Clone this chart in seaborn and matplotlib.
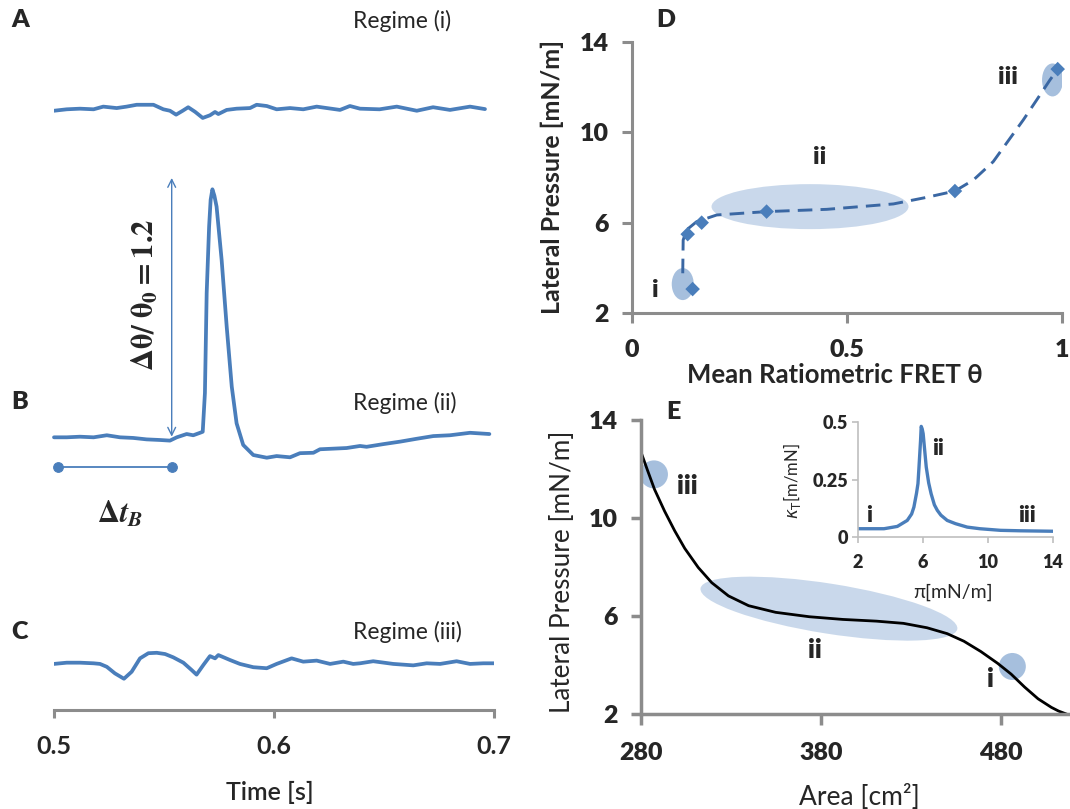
import matplotlib
matplotlib.use("Agg")
import matplotlib.pyplot as plt
import seaborn as sns
from matplotlib.patches import Ellipse
from matplotlib.transforms import ScaledTranslation

# ---------------- data ----------------
# Panels A-C : FRET traces (delta theta / theta0) vs time [s]
tA = [0.5, 0.5058, 0.5118, 0.518, 0.5224, 0.5285, 0.533, 0.5376, 0.5421, 0.5452,
      0.5497, 0.5527, 0.5555, 0.5585, 0.561, 0.5641, 0.5676, 0.5709, 0.5732, 0.5747,
      0.5785, 0.583, 0.5891, 0.5921, 0.5967, 0.6012, 0.6073, 0.6133, 0.6194, 0.624,
      0.63, 0.6345, 0.6391, 0.648, 0.6558, 0.6649, 0.6723, 0.68, 0.6891, 0.6959]
vA = [-0.007, 0.0, 0.003, 0.0, 0.013, 0.006, 0.013, 0.022, 0.022, 0.022,
      0.0, -0.007, -0.026, -0.007, 0.010, -0.012, -0.042, -0.029, -0.013, -0.023,
      -0.003, 0.003, 0.006, 0.022, 0.016, 0.0, 0.006, 0.0, 0.013, 0.006,
      -0.003, 0.016, 0.003, 0.0, 0.013, -0.007, 0.010, -0.003, 0.013, 0.001]

tB = [0.5, 0.5058, 0.5118, 0.518, 0.524, 0.53, 0.536, 0.5421, 0.5482, 0.5527,
      0.5558, 0.5603, 0.5633, 0.5664, 0.5676, 0.5686, 0.5694, 0.5705, 0.5712, 0.572,
      0.5729, 0.5739, 0.5762, 0.5785, 0.5808, 0.583, 0.586, 0.5906, 0.5967, 0.6012,
      0.6073, 0.6118, 0.6179, 0.6209, 0.627, 0.633, 0.6391, 0.6421, 0.6497, 0.6573,
      0.6649, 0.6724, 0.68, 0.6891, 0.6979]
vB = [-0.003, -0.003, 0.0, -0.003, 0.007, -0.003, -0.006, -0.013, -0.016, -0.019,
      -0.003, 0.013, 0.007, 0.019, 0.024, 0.212, 0.698, 1.019, 1.15, 1.201,
      1.17, 1.117, 0.858, 0.534, 0.243, 0.065, -0.040, -0.089, -0.102, -0.094,
      -0.100, -0.080, -0.078, -0.061, -0.058, -0.055, -0.045, -0.049, -0.036, -0.024,
      -0.010, 0.003, 0.007, 0.019, 0.013]

tC = [0.5, 0.5058, 0.5118, 0.518, 0.5209, 0.524, 0.5277, 0.5318, 0.5353, 0.5391,
      0.5429, 0.5467, 0.5505, 0.5542, 0.5588, 0.5626, 0.5648, 0.5679, 0.5709, 0.5732,
      0.5747, 0.58, 0.5845, 0.5906, 0.5967, 0.6012, 0.608, 0.6133, 0.6194, 0.6255,
      0.6315, 0.636, 0.6391, 0.6451, 0.6542, 0.6633, 0.6694, 0.6755, 0.683, 0.6891,
      0.6951, 0.7]
vC = [-0.003, 0.003, 0.003, 0.0, -0.003, -0.017, -0.049, -0.075, -0.041, 0.024,
      0.049, 0.051, 0.045, 0.029, 0.003, -0.033, -0.055, -0.008, 0.035, 0.024,
      0.040, 0.016, -0.003, -0.019, -0.024, -0.003, 0.024, 0.008, 0.013, -0.003,
      0.008, -0.003, 0.0, 0.010, -0.003, -0.010, 0.0, -0.003, 0.010, -0.003,
      0.0, 0.0]
time_ticks = [0.5, 0.6, 0.7]
time_ticklabels = ["0.5", "0.6", "0.7"]
regime_labels = ["Regime (i)", "Regime (ii)", "Regime (iii)"]
amp_value = 1.2          # delta theta / theta0 arrow
dt_window = [0.502, 0.5535]  # delta t_B marker

# Panel D : lateral pressure vs mean ratiometric FRET
thetaD = [0.141, 0.1295, 0.162, 0.313, 0.751, 0.990]
presD = [3.06, 5.49, 6.00, 6.49, 7.40, 12.80]
fitD_theta = [0.118, 0.118, 0.119, 0.127, 0.150, 0.197, 0.313, 0.453, 0.608, 0.685,
              0.751, 0.794, 0.840, 0.871, 0.910, 0.941, 0.972, 0.990]
fitD_pres = [3.17, 4.35, 5.23, 5.68, 6.04, 6.34, 6.49, 6.59, 6.83, 7.12,
             7.40, 7.89, 8.70, 9.52, 10.55, 11.43, 12.32, 12.80]
regD_x = [0.118, 0.414, 0.978]
regD_y = [3.28, 6.71, 12.32]
regD_lbl_x = [0.055, 0.436, 0.874]
regD_lbl_y = [3.02, 8.92, 12.47]

# Panel E : isotherm, lateral pressure vs area
areaE = [280.0, 283.7, 287.5, 293.1, 298.7, 304.3, 311.8, 319.3, 328.6, 339.8,
         354.8, 373.5, 392.1, 410.8, 425.8, 438.9, 450.1, 459.4, 468.8, 478.1,
         485.6, 493.1, 500.6, 508.0, 512.0, 517.0]
presE = [12.69, 11.93, 11.17, 10.28, 9.48, 8.76, 7.98, 7.36, 6.82, 6.42,
         6.15, 5.97, 5.86, 5.79, 5.70, 5.52, 5.28, 4.97, 4.55, 4.07,
         3.63, 3.10, 2.62, 2.27, 2.12, 1.98]
regE_x = [486.3, 384.4, 287.2]
regE_y = [3.94, 6.30, 11.78]
regE_lbl_x = [474.4, 376.7, 305.6]
regE_lbl_y = [3.43, 4.6, 11.3]

# Inset : compressibility vs pressure
piI = [2.0, 3.6, 4.42, 5.03, 5.3, 5.44, 5.6, 5.69, 5.75, 5.85, 5.89, 5.95,
       6.01, 6.1, 6.2, 6.35, 6.5, 6.7, 6.88, 7.1, 7.49, 8.0, 8.72, 9.5,
       10.77, 12.0, 14.0]
kapI = [0.036, 0.036, 0.046, 0.072, 0.10, 0.130, 0.19, 0.232, 0.30, 0.42, 0.481, 0.47,
        0.449, 0.38, 0.304, 0.235, 0.188, 0.14, 0.116, 0.095, 0.072, 0.058, 0.043, 0.036,
        0.029, 0.027, 0.025]
regI_lbl_x = [2.68, 6.9, 12.4]
regI_lbl_y = [0.094, 0.384, 0.094]
reg_names = ["i", "ii", "iii"]

# ---------------- style ----------------
sns.set_theme(style="white")
plt.rcParams["font.family"] = ["Lato", "DejaVu Sans"]

BLUE = "#4A7EBB"
DBLUE = "#3A67A3"
BLOB = "#4F81BD"
GRAY = "#8C8C8C"
W, H = 1070, 809

fig = plt.figure(figsize=(W / 100, H / 100), dpi=100)


def rect(l, t, r, b):
    return [l / W, 1 - b / H, (r - l) / W, (b - t) / H]


def ftext(x, y, s, **kw):
    kw.setdefault("ha", "center")
    kw.setdefault("va", "center")
    return fig.text(x / W, 1 - y / H, s, **kw)


def blob(ax, x, y, w_px, h_px, alpha, angle=0):
    tr = fig.dpi_scale_trans + ScaledTranslation(x, y, ax.transData)
    ax.add_patch(Ellipse((0, 0), w_px / 100, h_px / 100, angle=angle, transform=tr,
                         facecolor=BLOB, alpha=alpha, edgecolor="none", zorder=1))


def clean(ax):
    ax.patch.set_alpha(0)
    for s in ax.spines.values():
        s.set_visible(False)
    ax.set_xlabel("")
    ax.set_ylabel("")


# ---------------- panels A-C ----------------
S = 206.0  # px per unit of delta theta/theta0


def trace_ax(top, bottom, base, t, v):
    ax = fig.add_axes(rect(54, top, 494, bottom))
    sns.lineplot(x=t, y=v, ax=ax, color=BLUE, linewidth=2.7, sort=False,
                 errorbar=None)
    ax.set_xlim(0.5, 0.7)
    ax.set_ylim(-(bottom - base) / S, (base - top) / S)
    clean(ax)
    ax.set_xticks([])
    ax.set_yticks([])
    return ax


axA = trace_ax(40, 150, 109.3, tA, vA)
axB = trace_ax(170, 480, 436.7, tB, vB)
axC = trace_ax(600, 710, 663.3, tC, vC)

axC.spines["bottom"].set_visible(True)
axC.spines["bottom"].set_color(GRAY)
axC.spines["bottom"].set_linewidth(2.2)
axC.set_xticks(time_ticks, time_ticklabels, fontsize=18, fontweight="bold")
axC.tick_params(axis="x", bottom=True, direction="out", length=6, width=2.2,
                color=GRAY, pad=12)

# arrow and amplitude label
axB.annotate("", xy=(dt_window[1], 1.256), xytext=(dt_window[1], 0.0),
             arrowprops=dict(arrowstyle="<->", color=BLUE, lw=1.0,
                             mutation_scale=14, shrinkA=0, shrinkB=0))
axB.text(0.5414, 0.688, r"$\mathbf{\Delta\theta/\ \theta_0 = %.1f}$" % amp_value,
         rotation=90, ha="center", va="center", fontsize=22,
         math_fontfamily="stix")
sns.lineplot(x=dt_window, y=[-0.1495, -0.1495], ax=axB, color=BLUE, lw=1.3,
             marker="o", markersize=7, markeredgecolor=BLUE, errorbar=None)
for ln in axB.lines:
    ln.set_clip_on(False)
axB.set_xlabel("")
axB.set_ylabel("")
ftext(120, 514, r"$\mathbf{\Delta}\mathbfit{t}_{\mathbfit{B}}$", fontsize=22,
      math_fontfamily="stix")

for lbl, y in zip(["A", "B", "C"], [20, 402, 632]):
    ftext(20, y, lbl, fontsize=18, fontweight="heavy")
for lbl, y in zip(regime_labels, [21, 403, 632]):
    ftext(353, y, lbl, fontsize=16.5, ha="left")
ftext(270, 792, "Time [s]", fontsize=18, fontweight="semibold")

# ---------------- panel D ----------------
axD = fig.add_axes(rect(632, 42, 1062, 313))
axD.set_xlim(0, 1)
axD.set_ylim(2, 14)
for (x, y), (w, h, a) in zip(zip(regD_x, regD_y),
                             [(22, 32, 0.5), (197, 45, 0.3), (21, 33, 0.5)]):
    blob(axD, x, y, w, h, a)
sns.lineplot(x=fitD_theta, y=fitD_pres, ax=axD, color=DBLUE, linewidth=2.1,
             sort=False, errorbar=None)
axD.lines[-1].set_linestyle((0, (5, 2.8)))
sns.scatterplot(x=thetaD, y=presD, ax=axD, marker="D", s=55, color=BLUE,
                edgecolor="none", zorder=3, clip_on=False)
clean(axD)
for s in ["left", "bottom"]:
    axD.spines[s].set_visible(True)
    axD.spines[s].set_color(GRAY)
    axD.spines[s].set_linewidth(2.2)
axD.set_xticks([0, 0.5, 1], ["0", "0.5", "1"], fontsize=18, fontweight="heavy")
axD.set_yticks([2, 6, 10, 14], ["2", "6", "10", "14"], fontsize=18,
               fontweight="heavy")
axD.tick_params(axis="x", bottom=True, direction="out", length=7, width=2.2,
                color=GRAY, pad=12)
axD.tick_params(axis="y", left=True, direction="out", length=7, width=2.2,
                color=GRAY, pad=10)
for n, x, y in zip(reg_names, regD_lbl_x, regD_lbl_y):
    axD.text(x, y, n, fontsize=18, fontweight="heavy", ha="center", va="center")
ftext(666, 20, "D", fontsize=18, fontweight="heavy")
ftext(552, 177, "Lateral Pressure [mN/m]", fontsize=18, fontweight="bold",
      rotation=90)
ftext(835, 375, "Mean Ratiometric FRET θ", fontsize=18.5, fontweight="bold")

# ---------------- panel E ----------------
axE = fig.add_axes(rect(641, 420, 1069.4, 714))
axE.set_xlim(280, 518)
axE.set_ylim(2, 14)
blob(axE, regE_x[0], regE_y[0], 27, 27, 0.5)
blob(axE, regE_x[1], regE_y[1], 260, 50, 0.3, angle=-9)
blob(axE, regE_x[2], regE_y[2], 28, 28, 0.5)
sns.lineplot(x=areaE, y=presE, ax=axE, color="black", linewidth=2.0,
             sort=False, errorbar=None)
clean(axE)
for s in ["left", "bottom"]:
    axE.spines[s].set_visible(True)
    axE.spines[s].set_color(GRAY)
    axE.spines[s].set_linewidth(2.5)
axE.set_xticks([280, 380, 480], ["280", "380", "480"], fontsize=18,
               fontweight="heavy")
axE.set_yticks([2, 6, 10, 14], ["2", "6", "10", "14"], fontsize=18,
               fontweight="heavy")
axE.tick_params(axis="x", bottom=True, direction="out", length=8, width=2.5,
                color=GRAY, pad=12)
axE.tick_params(axis="y", left=True, direction="out", length=7, width=2.5,
                color=GRAY, pad=10)
for n, x, y in zip(reg_names, regE_lbl_x, regE_lbl_y):
    axE.text(x, y, n, fontsize=19, fontweight="heavy", ha="center", va="center")
ftext(673, 412, "E", fontsize=18, fontweight="heavy")
ftext(562, 572, "Lateral Pressure [mN/m]", fontsize=18.8, rotation=90)
ftext(859, 797, "Area [cm²]", fontsize=19)

# ---------------- inset ----------------
axI = fig.add_axes(rect(858, 422, 1053, 537))
sns.lineplot(x=piI, y=kapI, ax=axI, color=BLUE, linewidth=2.4, sort=False,
             errorbar=None)
axI.set_xlim(2, 14)
axI.set_ylim(0, 0.5)
clean(axI)
for s in ["left", "bottom"]:
    axI.spines[s].set_visible(True)
    axI.spines[s].set_color("#BFBFBF")
    axI.spines[s].set_linewidth(1.2)
axI.set_xticks([2, 6, 10, 14], ["2", "6", "10", "14"], fontsize=13,
               fontweight="heavy")
axI.set_yticks([0, 0.25, 0.5], ["0", "0.25", "0.5"], fontsize=13,
               fontweight="heavy")
axI.tick_params(axis="x", bottom=True, direction="out", length=4, width=1.2,
                color="#BFBFBF", pad=8)
axI.tick_params(axis="y", left=True, direction="out", length=4, width=1.2,
                color="#BFBFBF", pad=3)
for n, x, y in zip(reg_names, regI_lbl_x, regI_lbl_y):
    axI.text(x, y, n, fontsize=16, fontweight="heavy", ha="center", va="center")
ftext(953, 592, "π[mN/m]", fontsize=14)
ftext(792, 481, r"$\kappa_\mathrm{T}$[m/mN]", fontsize=12, rotation=90,
      math_fontfamily="dejavusans")

fig.savefig("out.png", dpi=100)
